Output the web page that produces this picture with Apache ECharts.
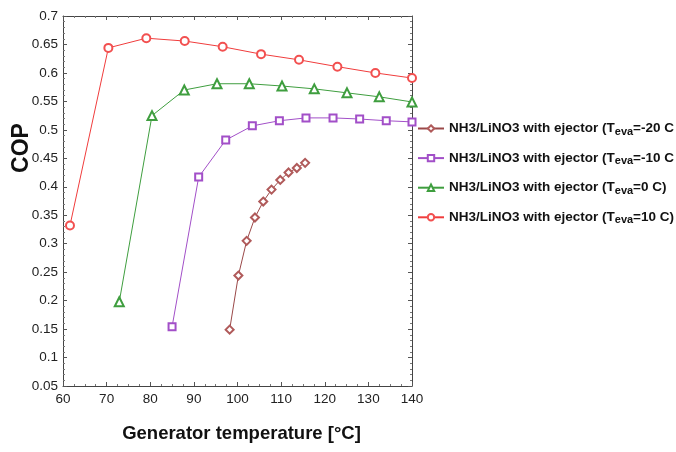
<!DOCTYPE html>
<html>
<head>
<meta charset="utf-8">
<script src="https://cdn.jsdelivr.net/npm/echarts@6/dist/echarts.min.js"></script>
<style>
  html, body { margin: 0; padding: 0; background: #fff; }
  #chart { width: 676px; height: 452px; }
</style>
</head>
<body>
<div id="chart"></div>
<script>
// readings from the picture: generator temperature [°C] vs COP
const t_m20 = [98.2, 100.2, 102.1, 104, 105.9, 107.8, 109.8, 111.7, 113.6, 115.5]
const cop_m20 = [0.149, 0.244, 0.305, 0.346, 0.374, 0.395, 0.412, 0.425, 0.433, 0.442]

const t_m10 = [85, 91.1, 97.3, 103.4, 109.6, 115.7, 121.9, 128, 134.1, 140]
const cop_m10 = [0.154, 0.417, 0.482, 0.507, 0.516, 0.521, 0.521, 0.519, 0.516, 0.514]

const t_0 = [72.9, 80.4, 87.8, 95.3, 102.7, 110.2, 117.6, 125.1, 132.5, 140]
const cop_0 = [0.198, 0.525, 0.570, 0.581, 0.581, 0.577, 0.572, 0.565, 0.558, 0.549]

const t_10 = [61.6, 70.4, 79.1, 87.9, 96.6, 105.4, 114.1, 122.9, 131.6, 140]
const cop_10 = [0.332, 0.644, 0.661, 0.656, 0.646, 0.633, 0.623, 0.611, 0.600, 0.591]

const labels = ['-20 C', '-10 C', '0 C)', '10 C)']

const font = "'Liberation Sans', Arial, sans-serif"

function pairs(xs, ys) {
  return xs.map((x, i) => [x, ys[i]])
}

const chart = echarts.init(document.getElementById('chart'))

const tickStyle = { color: '#555', width: 1 }

function axisCommon(extra) {
  return Object.assign({
    axisLine: { show: true, lineStyle: { color: '#444', width: 1 } },
    axisTick: { show: true, inside: true, length: 4, lineStyle: tickStyle },
    splitLine: { show: false }
  }, extra)
}

const names = labels.map((l, i) => 'NH3/LiNO3 with ejector (Teva=' + l + '#' + i)

chart.setOption({
  animation: false,
  grid: { left: 63, right: 264, top: 16, bottom: 66, outerBoundsMode: 'none' },
  legend: {
    orient: 'vertical',
    left: 412,
    top: 115,
    itemWidth: 26,
    itemHeight: 8,
    itemGap: 12.6,
    data: names,
    formatter: function (name) {
      const idx = +name.split('#')[1]
      return '{a|NH3/LiNO3 with ejector (T}{s|eva}{a|=' + labels[idx] + '}'
    },
    textStyle: {
      rich: {
        a: { fontFamily: font, fontWeight: 'bold', fontSize: 13.5, color: '#111', lineHeight: 20 },
        s: { fontFamily: font, fontWeight: 'bold', fontSize: 11, color: '#111', padding: [6, 0, 0, 0], lineHeight: 20 }
      }
    }
  },
  xAxis: [
    axisCommon({
      type: 'value', min: 60, max: 140, interval: 10,
      minorTick: { show: true, splitNumber: 4, length: 2, lineStyle: { color: '#777' } },
      axisLabel: { fontFamily: font, fontSize: 13.5, color: '#222', margin: 6 },
      name: 'Generator temperature [°C]',
      nameLocation: 'middle',
      nameGap: 38,
      nameTextStyle: {
        fontFamily: font, fontWeight: 'bold', fontSize: 18.5, color: '#111',
        padding: [0, 0, 0, 8]
      }
    }),
    axisCommon({
      type: 'value', min: 60, max: 140, interval: 10, position: 'top',
      minorTick: { show: true, splitNumber: 4, length: 2, lineStyle: { color: '#777' } },
      axisLabel: { show: false }
    })
  ],
  yAxis: [
    axisCommon({
      type: 'value', min: 0.05, max: 0.7, interval: 0.05,
      minorTick: { show: true, splitNumber: 5, length: 2, lineStyle: { color: '#777' } },
      axisLabel: {
        fontFamily: font, fontSize: 13.5, color: '#222', margin: 5,
        formatter: v => String(+v.toFixed(2))
      },
      name: 'COP',
      nameLocation: 'middle',
      nameRotate: 90,
      nameGap: 30,
      nameMoveOverlap: false,
      nameTextStyle: {
        fontFamily: font, fontWeight: 'bold', fontSize: 23, color: '#111',
        padding: [0, 0, 0, 106]
      }
    }),
    axisCommon({
      type: 'value', min: 0.05, max: 0.7, interval: 0.05, position: 'right',
      minorTick: { show: true, splitNumber: 5, length: 2, lineStyle: { color: '#777' } },
      axisLabel: { show: false }
    })
  ],
  series: [
    {
      name: names[0], type: 'line', data: pairs(t_m20, cop_m20),
      symbol: 'emptyDiamond', symbolSize: 8,
      itemStyle: { color: '#b05a5a' }, lineStyle: { color: '#9a4848', width: 1 }
    },
    {
      name: names[1], type: 'line', data: pairs(t_m10, cop_m10),
      symbol: 'emptyRect', symbolSize: 7,
      itemStyle: { color: '#a24fc8' }, lineStyle: { color: '#a24fc8', width: 1 }
    },
    {
      name: names[2], type: 'line', data: pairs(t_0, cop_0),
      symbol: 'emptyTriangle', symbolSize: 9,
      itemStyle: { color: '#3f9e3f' }, lineStyle: { color: '#3f9e3f', width: 1 }
    },
    {
      name: names[3], type: 'line', data: pairs(t_10, cop_10),
      symbol: 'emptyCircle', symbolSize: 8,
      itemStyle: { color: '#f25050' }, lineStyle: { color: '#f03c3c', width: 1 }
    }
  ]
})
</script>
</body>
</html>
